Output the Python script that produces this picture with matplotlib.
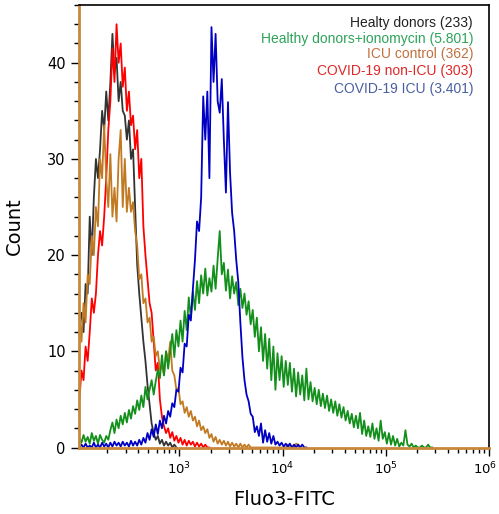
import numpy as np
import matplotlib
matplotlib.use("Agg")
import matplotlib.pyplot as plt
import matplotlib.transforms as mtransforms
from matplotlib.ticker import LogLocator, MultipleLocator, NullFormatter

# log10 channel grid of the histogram (bin centres)
bins = np.round(np.arange(2.03, 5.46, 0.02), 2)

# counts per bin
healthy = [13, 14, 12, 17, 16, 24, 20, 26, 30, 28, 31, 35, 33, 37, 34, 38, 43, 39, 40.5, 36,
           38, 35, 34.5, 32, 34, 30, 31, 25, 19, 16, 13.5, 11, 9, 6.5, 4.5, 2.5, 1.5, 0.8, 1.2, 0.4,
           0.8, 0.2, 0.6, 0.2, 0.5, 0, 0.3, 0]

non_icu = [5, 8, 7, 10.5, 9, 12, 15.5, 14, 16, 20, 22.5, 21, 24, 28, 33, 36, 41.5, 38, 44, 40,
           42, 37.5, 39.5, 35, 37, 33.5, 34.5, 31, 33, 28, 30, 23, 20, 17.5, 15, 14, 11, 8, 8.8, 5,
           3.2, 2.2, 1.5, 2, 1, 1.6, 0.7, 1.2, 0.5, 1, 0.3, 0.8, 0.2, 0.7, 0.3, 0.6, 0.1, 0.5, 0.1, 0.4,
           0, 0.3, 0, 0]

icu_control = [14, 11, 15, 13, 18, 17, 22, 20, 25, 23, 30, 28, 33.5, 28, 25, 30.5, 24, 27, 23.5, 30,
               33, 25, 30, 24.5, 27, 24.5, 25.5, 22.5, 21, 17.5, 18, 15, 15.5, 13, 13.5, 11, 11.5, 9.5, 10, 8,
               8.5, 7.5, 10, 9, 11, 8, 7.5, 6, 6.2, 4.5, 4.8, 3.6, 4.2, 3.2, 3.8, 2.8, 3.2, 2.2, 2.8, 1.8,
               2.2, 1.5, 1.9, 1, 1.4, 0.6, 1.1, 0.4, 0.8, 0.3, 0.7, 0.2, 0.6, 0.1, 0.5, 0.1, 0.4, 0, 0.4, 0,
               0.3, 0, 0.3, 0, 0, 0, 0, 0, 0, 0, 0, 0, 0, 0, 0, 0, 0, 0, 0, 0,
               0, 0.3, 0, 0, 0, 0.4, 0.3, 0]

ionomycin = [1, 0.5, 1.3, 0.6, 1.1, 0.4, 1.5, 0.7, 1.2, 0.4, 1.3, 0.8, 0.5, 1.2, 0.8, 1.8, 2.6, 1.5, 2.9, 2,
             3.3, 2.4, 3.6, 2.6, 3.9, 3, 4.3, 3.5, 4.9, 3.9, 5.4, 4.2, 6.3, 5, 6, 7, 5.5, 6.9, 8.1, 7.2,
             9.6, 7.5, 10, 8.2, 10, 11.8, 9.4, 12.2, 10.5, 13.2, 11, 14.2, 12.2, 15.6, 13.5, 16.2, 14.3, 17.3, 15, 17.9,
             16, 18.6, 15.8, 17.6, 16.2, 18.9, 16.5, 19.6, 22.5, 18, 19.2, 16.3, 18.5, 15.5, 17.8, 16, 17.2, 14.8, 16.5, 14.5,
             16, 13.8, 15.2, 12.8, 14.3, 11.5, 13.5, 10, 12.5, 9, 11.8, 8.2, 11.3, 7, 10.5, 6, 9.8, 7, 9.5, 6.3,
             9, 6.5, 8.8, 5.8, 8.2, 5.3, 7.8, 5.5, 7.5, 4.9, 8.2, 5, 6.8, 4.8, 6.2, 4.5, 6, 4.3, 5.6, 4.1,
             5.4, 3.8, 5, 3.6, 4.8, 3.3, 4.5, 3.1, 4.2, 2.8, 3.8, 2.5, 3.5, 2.1, 3.3, 2, 3.6, 1.4, 2.8, 1.2,
             2.2, 1.1, 2.5, 0.9, 2, 0.7, 2.8, 0.9, 1.6, 0.4, 1.5, 0.3, 1.2, 0.2, 0.9, 0.1, 0.5, 0.2, 1.8, 0.3,
             0.1, 0.4, 0, 0.2, 0, 0, 0.2, 0, 0, 0.3, 0, 0]

icu = [0, 0.3, 0, 0.4, 0, 0.2, 0, 0.5, 0, 0.3, 0, 0.5, 0.1, 0.4, 0, 0.5, 0.1, 0.6, 0.2, 0.5,
       0.1, 0.6, 0.2, 0.5, 0.1, 0.7, 0.2, 0.6, 0.2, 0.8, 0.3, 1, 0.5, 1.5, 0.8, 1.9, 1.1, 2.4, 1.4, 2.8,
       2, 3.3, 2.5, 3.8, 3.2, 4.6, 4.2, 6, 5.8, 8.3, 7.8, 10.8, 10.5, 13.8, 13.2, 16.5, 19.5, 23.5, 22.5, 26,
       36.5, 32, 37, 28, 43.7, 38, 43, 36, 34.8, 38.3, 32, 26.5, 35.9, 28.6, 24.4, 22.5, 19.5, 17.2, 13, 9.4,
       7, 5.5, 4.8, 3.5, 3.2, 1.6, 2.2, 1.2, 2.5, 0.5, 1.8, 0.6, 1.5, 0.4, 1.2, 0.3, 0.6, 0.2, 0.5, 0.1,
       0.4, 0.1, 0.4, 0, 0.3, 0, 0.3, 0, 0.3, 0, 0]

labels = ["Healty donors (233)", "Healthy donors+ionomycin (5.801)", "ICU control (362)",
          "COVID-19 non-ICU (303)", "COVID-19 ICU (3.401)"]
line_colors = ["#333333", "#13901b", "#c27a22", "#ff0000", "#0000c4"]
text_colors = ["#222222", "#2ea35a", "#c07040", "#e02828", "#4a5fa0"]

fig = plt.figure(figsize=(4.99, 5.14), dpi=100)
ax = fig.add_axes([79 / 499, 1 - 447.5 / 514, 410 / 499, 442.5 / 514])

# draw order: black, red, brown, green, blue
order = [(healthy, 0), (non_icu, 3), (icu_control, 2), (ionomycin, 1), (icu, 4)]
for counts, i in order:
    xs = 10 ** bins[:len(counts)]
    ax.plot(xs, counts, color=line_colors[i], lw=1.3)

ax.set_xscale("log")
ax.set_xlim(10 ** 2.026, 1e6)
ax.set_ylim(0, 46)
ax.xaxis.set_major_locator(LogLocator(base=10))
ax.xaxis.set_minor_locator(LogLocator(base=10, subs=np.arange(2, 10)))
ax.xaxis.set_minor_formatter(NullFormatter())
ax.yaxis.set_major_locator(MultipleLocator(10))
ax.yaxis.set_minor_locator(MultipleLocator(2))
ax.tick_params(which="both", direction="out", colors="black", width=1)
ax.tick_params(axis="x", labelsize=9.5)
ax.tick_params(axis="y", labelsize=10.5)
ax.tick_params(which="major", length=6)
ax.tick_params(which="minor", length=3.5)

for s in ["left", "bottom"]:
    ax.spines[s].set_color("#c8883c")
    ax.spines[s].set_linewidth(2)
for s in ["top", "right"]:
    ax.spines[s].set_color("black")
    ax.spines[s].set_linewidth(1.2)

ax.set_xlabel("Fluo3-FITC", fontsize=14, labelpad=9)
ax.set_ylabel("Count", fontsize=14, labelpad=17)

ys = [0.96, 0.924, 0.89, 0.851, 0.81]
for lab, c, y in zip(labels, text_colors, ys):
    ax.text(0.961, y, lab, transform=ax.transAxes, ha="right", va="center",
            color=c, fontsize=10, family="Liberation Sans")

# keep the last x label (10^6) inside the figure edge
fig.canvas.draw()
for tick in ax.xaxis.get_major_ticks():
    if np.isclose(tick.get_loc(), 1e6):
        lab = tick.label1
        lab.set_transform(lab.get_transform() + mtransforms.ScaledTranslation(-4 / 100, 0, fig.dpi_scale_trans))

fig.savefig("out.png", dpi=100)
